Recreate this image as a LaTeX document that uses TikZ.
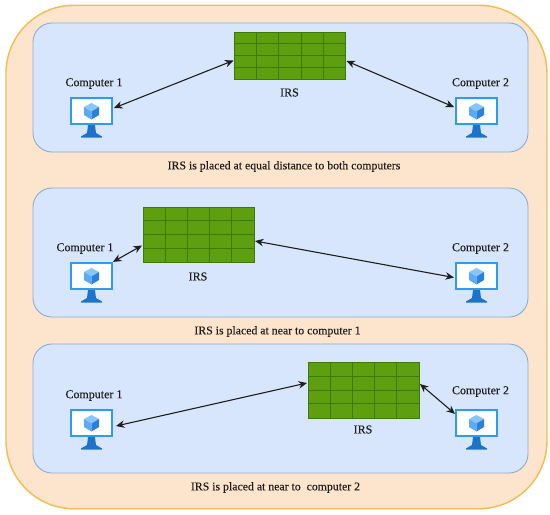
\documentclass[tikz,border=0pt]{standalone}
\usepackage{fontspec}
\setmainfont[FakeBold=0.25]{Liberation Serif}
\usetikzlibrary{calc,arrows.meta}
\definecolor{outerfill}{HTML}{FDE4CC}
\definecolor{outerline}{HTML}{F2BD50}
\definecolor{panelfill}{HTML}{D7E6FC}
\definecolor{panelline}{HTML}{8FA9D6}
\definecolor{irsfill}{HTML}{5E9F10}
\definecolor{irsline}{HTML}{3A7A08}
\definecolor{monline}{HTML}{2E9BF0}
\definecolor{standc}{HTML}{1E73C8}
\definecolor{cubetop}{HTML}{86C6FA}
\definecolor{cubeleft}{HTML}{5AABF2}
\definecolor{cuberight}{HTML}{2A80DC}
\definecolor{inkc}{HTML}{1E1E1E}
\tikzset{
  x=1pt,y=-1pt,
  every node/.style={outer sep=0pt,inner sep=0pt},
  outerbox/.style={draw=outerline,fill=outerfill,line width=1.4pt,rounded corners=68pt,minimum width=541pt,minimum height=503.5pt},
  panel/.style={draw=panelline,fill=panelfill,line width=0.9pt,rounded corners=19pt,minimum width=495pt,minimum height=129pt},
  irs/.style={fill=irsfill,draw=irsline,line width=0.5pt,minimum width=111pt,minimum height=#1,
    path picture={
      \foreach \k in {1,2,3,4}
        \draw[irsline,line width=0.9pt] ($(path picture bounding box.north west)!\k/5!(path picture bounding box.north east)$) -- ($(path picture bounding box.south west)!\k/5!(path picture bounding box.south east)$);
      \foreach \k in {1,2,3}
        \draw[irsline,line width=0.9pt] ($(path picture bounding box.north west)!\k/4!(path picture bounding box.south west)$) -- ($(path picture bounding box.north east)!\k/4!(path picture bounding box.south east)$);
    }},
  screen/.style={draw=monline,fill=white,line width=1.9pt,minimum width=41pt,minimum height=26.2pt},
  label/.style={text=inkc,font=\fontsize{12}{13}\selectfont},
  caption/.style={text=inkc,font=\fontsize{11.8}{13}\selectfont},
  link/.style={draw=inkc,line width=1.1pt,{Stealth[length=8.5pt,width=7.5pt]}-{Stealth[length=8.5pt,width=7.5pt]}},
  monparts/.pic={
    \fill[standc] (-3.5,14) -- (3.5,14) -- (4.5,22) -- (10.5,25.5) -- (10.5,26.5) -- (-10.5,26.5) -- (-10.5,25.5) -- (-4.5,22) -- cycle;
    \fill[cubetop] (0,-8) -- (7.5,-4) -- (0,0.5) -- (-7.5,-4) -- cycle;
    \fill[cubeleft] (-7.5,-4) -- (0,0.5) -- (0,8.5) -- (-7.5,4) -- cycle;
    \fill[cuberight] (7.5,-4) -- (0,0.5) -- (0,8.5) -- (7.5,4) -- cycle;
  },
}
\begin{document}
\begin{tikzpicture}
\useasboundingbox (0,0) rectangle (550,515);
\fill[white] (0,0) rectangle (550,515);
\node[outerbox] (outer) at (276.5,257) {};
\node[panel] (p1) at (280.5,87.5) {};
\node[panel] (p2) at (280.5,252.5) {};
\node[panel] (p3) at (280.5,408.5) {};

\node[irs=46.5pt] (irs1) at (290,55.5) {};
\node[irs=55.5pt] (irs2) at (198.5,234.5) {};
\node[irs=55.5pt] (irs3) at (363.5,390) {};

\node[screen] (a1) at (91.5,111) {};
\node[screen] (b1) at (476.5,111) {};
\node[screen] (a2) at (91.5,276) {};
\node[screen] (b2) at (476.5,276) {};
\node[screen] (a3) at (91.5,423) {};
\node[screen] (b3) at (476.5,423) {};
\foreach \m in {a1,b1,a2,b2,a3,b3} \pic at (\m.center) {monparts};

\node[label] (la1) at (94,83.5) {Computer 1};
\node[label] (lb1) at (480.5,83.5) {Computer 2};
\node[label] (la2) at (85,248.5) {Computer 1};
\node[label] (lb2) at (480.5,248.5) {Computer 2};
\node[label] (la3) at (94,395.5) {Computer 1};
\node[label] (lb3) at (480.5,391.5) {Computer 2};
\node[label] (li1) at (289.5,92.5) {IRS};
\node[label] (li2) at (198,276.5) {IRS};
\node[label] (li3) at (363,429.5) {IRS};
\node[caption] (c1) at (284,166.5) {IRS is placed at equal distance to both computers};
\node[caption] (c2) at (277.5,331.5) {IRS is placed at near to computer 1};
\node[caption] (c3) at (275.5,487.5) {IRS is placed at near to\ \ computer 2};

\draw[link] ($(a1.east)+(2,-3)$) -- ($(irs1.west)+(-1,5)$);
\draw[link] ($(irs1.east)+(1,5.5)$) -- ($(b1.west)+(-2,-4)$);
\draw[link] ($(a2.north east)+(1,-1)$) -- ($(irs2.west)+(-1,11)$);
\draw[link] ($(irs2.east)+(1,6.5)$) -- ($(b2.west)+(-2,1.5)$);
\draw[link] ($(a3.east)+(4,3)$) -- ($(irs3.west)+(-1,-7)$);
\draw[link] ($(irs3.east)+(1,-6)$) -- ($(b3.north west)+(-1,4)$);
\end{tikzpicture}
\end{document}
